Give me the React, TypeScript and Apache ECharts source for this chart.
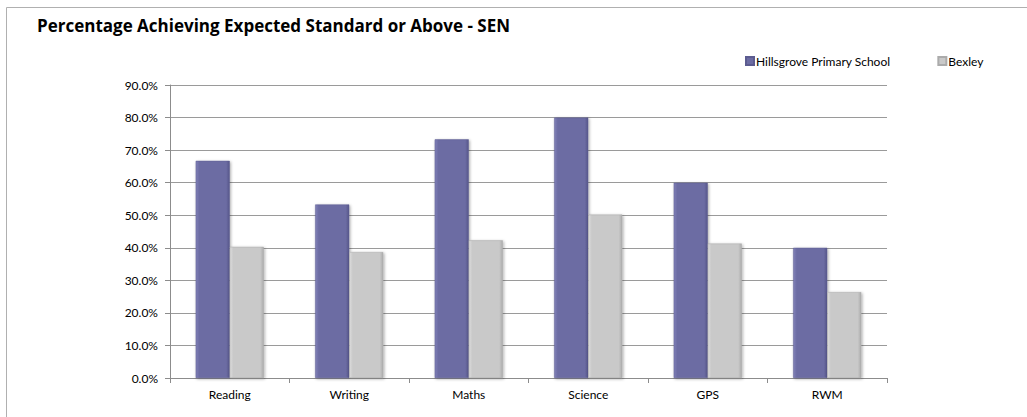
import React, { useEffect, useRef } from "react";
import * as echarts from "echarts";

const categories = ["Reading", "Writing", "Maths", "Science", "GPS", "RWM"];
const schoolValues = [66.7, 53.3, 73.3, 80.0, 60.0, 40.0];
const bexleyValues = [40.3, 38.7, 42.3, 50.2, 41.3, 26.4];
const seriesNames = ["Hillsgrove Primary School", "Bexley"];
const titleText = "Percentage Achieving Expected Standard or Above - SEN";

const FONT = "Lato";

export default function App() {
  const ref = useRef<HTMLDivElement>(null);
  useEffect(() => {
    document.body.style.margin = "0";
    const chart = echarts.init(ref.current!, undefined, { renderer: "svg" });
    const purple = new echarts.graphic.LinearGradient(0, 0, 1, 0, [
      { offset: 0, color: "#8080b8" },
      { offset: 0.1, color: "#6c6ca3" },
      { offset: 0.9, color: "#6c6ca3" },
      { offset: 1, color: "#56568a" },
    ]);
    const gray = new echarts.graphic.LinearGradient(0, 0, 1, 0, [
      { offset: 0, color: "#dcdcdc" },
      { offset: 0.1, color: "#c9c9c9" },
      { offset: 0.9, color: "#c9c9c9" },
      { offset: 1, color: "#acacac" },
    ]);
    chart.setOption({
      animation: false,
      backgroundColor: "#ffffff",
      title: {
        text: titleText,
        left: 32,
        top: 12,
        textStyle: { fontFamily: "Open Sans", fontSize: 17, fontWeight: "bold", color: "#000" },
      },
      legend: {
        data: seriesNames,
        left: 740,
        top: 50,
        itemWidth: 8,
        itemHeight: 8,
        itemGap: 47,
        icon: "rect",
        textStyle: { fontFamily: FONT, fontSize: 12, color: "#000", padding: [0, 0, 0, -3] },
      },
      graphic: [
        { type: "line", shape: { x1: 6.5, y1: 7.5, x2: 1027, y2: 7.5 }, style: { stroke: "#b0b0b0", lineWidth: 1 } },
        { type: "line", shape: { x1: 6.5, y1: 7.5, x2: 6.5, y2: 417 }, style: { stroke: "#b0b0b0", lineWidth: 1 } },
      ],
      grid: { left: 170, right: 140, top: 85, bottom: 39 },
      xAxis: {
        type: "category",
        data: categories,
        axisLine: { lineStyle: { color: "#8c8c8c" } },
        axisTick: { show: true, length: 5, lineStyle: { color: "#8c8c8c" } },
        axisLabel: { fontFamily: FONT, fontSize: 12, color: "#000", margin: 10 },
      },
      yAxis: {
        type: "value",
        min: 0,
        max: 90,
        interval: 10,
        axisLine: { show: true, lineStyle: { color: "#8c8c8c" } },
        axisTick: { show: true, length: 5, lineStyle: { color: "#8c8c8c" } },
        splitLine: { lineStyle: { color: "#9a9a9a" } },
        axisLabel: {
          fontFamily: FONT,
          fontSize: 12,
          color: "#000",
          margin: 12,
          formatter: (v: number) => v.toFixed(1) + "%",
        },
      },
      series: [
        {
          name: seriesNames[0],
          type: "bar",
          data: schoolValues,
          barGap: "0%",
          barCategoryGap: "43%",
          itemStyle: {
            color: purple,
            borderColor: "#5c5c90",
            borderWidth: 0.5,
            shadowColor: "rgba(0,0,0,0.35)",
            shadowBlur: 3,
            shadowOffsetX: 1,
            shadowOffsetY: 1,
          },
        },
        {
          name: seriesNames[1],
          type: "bar",
          data: bexleyValues,
          itemStyle: {
            color: gray,
            borderColor: "#ababab",
            borderWidth: 0.5,
            shadowColor: "rgba(0,0,0,0.35)",
            shadowBlur: 3,
            shadowOffsetX: 1,
            shadowOffsetY: 1,
          },
        },
      ],
    });
    return () => chart.dispose();
  }, []);
  return <div ref={ref} style={{ width: 1027, height: 417 }} />;
}
